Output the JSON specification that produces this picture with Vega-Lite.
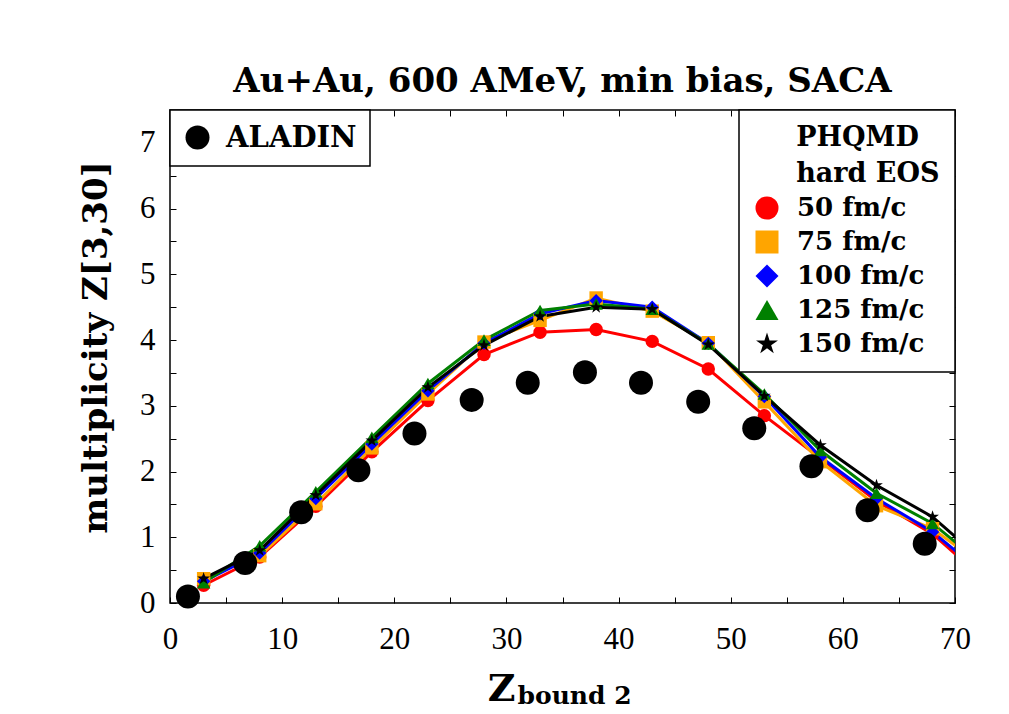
{
  "$schema": "https://vega.github.io/schema/vega-lite/v6.json",
  "width": 785,
  "height": 493,
  "autosize": {"type": "none"},
  "padding": {"left": 170, "top": 110, "right": 54, "bottom": 111},
  "background": "white",
  "title": {"text": "Au+Au, 600 AMeV, min bias, SACA", "font": "DejaVu Serif", "fontSize": 34, "fontWeight": "bold", "color": "black", "offset": 10, "anchor": "middle"},
  "config": {
    "view": {"stroke": "black", "strokeWidth": 1.5},
    "axis": {"domain": false, "grid": false, "tickColor": "black", "tickSize": -6, "tickWidth": 1, "labelFont": "Liberation Serif", "labelFontSize": 31, "labelColor": "black", "titleColor": "black", "labelFlush": false, "labelOverlap": false},
    "legend": {"strokeColor": "black", "strokeWidth": 1.5, "fillColor": "white", "offset": 0, "labelFont": "DejaVu Serif", "labelFontWeight": "bold", "labelColor": "black", "titleFont": "DejaVu Serif", "titleFontWeight": "bold", "titleColor": "black", "titleLimit": 400, "labelLimit": 400}
  },
  "datasets": {
    "phqmd": [
      {"series": "50 fm/c", "z": 3, "m": 0.27}, {"series": "50 fm/c", "z": 8, "m": 0.70}, {"series": "50 fm/c", "z": 13, "m": 1.47}, {"series": "50 fm/c", "z": 18, "m": 2.30}, {"series": "50 fm/c", "z": 23, "m": 3.08}, {"series": "50 fm/c", "z": 28, "m": 3.78}, {"series": "50 fm/c", "z": 33, "m": 4.12}, {"series": "50 fm/c", "z": 38, "m": 4.16}, {"series": "50 fm/c", "z": 43, "m": 3.98}, {"series": "50 fm/c", "z": 48, "m": 3.56}, {"series": "50 fm/c", "z": 53, "m": 2.85}, {"series": "50 fm/c", "z": 58, "m": 2.20}, {"series": "50 fm/c", "z": 63, "m": 1.55}, {"series": "50 fm/c", "z": 68, "m": 1.05}, {"series": "50 fm/c", "z": 73, "m": 0.30},
      {"series": "75 fm/c", "z": 3, "m": 0.37}, {"series": "75 fm/c", "z": 8, "m": 0.72}, {"series": "75 fm/c", "z": 13, "m": 1.51}, {"series": "75 fm/c", "z": 18, "m": 2.36}, {"series": "75 fm/c", "z": 23, "m": 3.18}, {"series": "75 fm/c", "z": 28, "m": 3.97}, {"series": "75 fm/c", "z": 33, "m": 4.30}, {"series": "75 fm/c", "z": 38, "m": 4.64}, {"series": "75 fm/c", "z": 43, "m": 4.44}, {"series": "75 fm/c", "z": 48, "m": 3.96}, {"series": "75 fm/c", "z": 53, "m": 3.06}, {"series": "75 fm/c", "z": 58, "m": 2.15}, {"series": "75 fm/c", "z": 63, "m": 1.48}, {"series": "75 fm/c", "z": 68, "m": 1.13}, {"series": "75 fm/c", "z": 73, "m": 0.51},
      {"series": "100 fm/c", "z": 3, "m": 0.33}, {"series": "100 fm/c", "z": 8, "m": 0.76}, {"series": "100 fm/c", "z": 13, "m": 1.59}, {"series": "100 fm/c", "z": 18, "m": 2.42}, {"series": "100 fm/c", "z": 23, "m": 3.23}, {"series": "100 fm/c", "z": 28, "m": 3.95}, {"series": "100 fm/c", "z": 33, "m": 4.40}, {"series": "100 fm/c", "z": 38, "m": 4.60}, {"series": "100 fm/c", "z": 43, "m": 4.50}, {"series": "100 fm/c", "z": 48, "m": 3.95}, {"series": "100 fm/c", "z": 53, "m": 3.14}, {"series": "100 fm/c", "z": 58, "m": 2.22}, {"series": "100 fm/c", "z": 63, "m": 1.59}, {"series": "100 fm/c", "z": 68, "m": 1.08}, {"series": "100 fm/c", "z": 73, "m": 0.38},
      {"series": "125 fm/c", "z": 3, "m": 0.31}, {"series": "125 fm/c", "z": 8, "m": 0.87}, {"series": "125 fm/c", "z": 13, "m": 1.69}, {"series": "125 fm/c", "z": 18, "m": 2.52}, {"series": "125 fm/c", "z": 23, "m": 3.34}, {"series": "125 fm/c", "z": 28, "m": 4.00}, {"series": "125 fm/c", "z": 33, "m": 4.45}, {"series": "125 fm/c", "z": 38, "m": 4.55}, {"series": "125 fm/c", "z": 43, "m": 4.47}, {"series": "125 fm/c", "z": 48, "m": 3.94}, {"series": "125 fm/c", "z": 53, "m": 3.18}, {"series": "125 fm/c", "z": 58, "m": 2.32}, {"series": "125 fm/c", "z": 63, "m": 1.67}, {"series": "125 fm/c", "z": 68, "m": 1.21}, {"series": "125 fm/c", "z": 73, "m": 0.51},
      {"series": "150 fm/c", "z": 3, "m": 0.37}, {"series": "150 fm/c", "z": 8, "m": 0.80}, {"series": "150 fm/c", "z": 13, "m": 1.64}, {"series": "150 fm/c", "z": 18, "m": 2.47}, {"series": "150 fm/c", "z": 23, "m": 3.28}, {"series": "150 fm/c", "z": 28, "m": 3.92}, {"series": "150 fm/c", "z": 33, "m": 4.36}, {"series": "150 fm/c", "z": 38, "m": 4.50}, {"series": "150 fm/c", "z": 43, "m": 4.47}, {"series": "150 fm/c", "z": 48, "m": 3.93}, {"series": "150 fm/c", "z": 53, "m": 3.15}, {"series": "150 fm/c", "z": 58, "m": 2.40}, {"series": "150 fm/c", "z": 63, "m": 1.79}, {"series": "150 fm/c", "z": 68, "m": 1.31}, {"series": "150 fm/c", "z": 73, "m": 0.56}
    ],
    "aladin": [
      {"src": "ALADIN", "z": 1.6, "m": 0.10}, {"src": "ALADIN", "z": 6.7, "m": 0.61}, {"src": "ALADIN", "z": 11.7, "m": 1.38}, {"src": "ALADIN", "z": 16.8, "m": 2.02}, {"src": "ALADIN", "z": 21.8, "m": 2.58}, {"src": "ALADIN", "z": 26.9, "m": 3.09}, {"src": "ALADIN", "z": 31.9, "m": 3.35}, {"src": "ALADIN", "z": 37.0, "m": 3.51}, {"src": "ALADIN", "z": 42.0, "m": 3.35}, {"src": "ALADIN", "z": 47.1, "m": 3.06}, {"src": "ALADIN", "z": 52.1, "m": 2.66}, {"src": "ALADIN", "z": 57.2, "m": 2.08}, {"src": "ALADIN", "z": 62.2, "m": 1.41}, {"src": "ALADIN", "z": 67.3, "m": 0.90}
    ]
  },
  "layer": [
    {
      "data": {"name": "phqmd"},
      "mark": {"type": "line", "strokeWidth": 3, "clip": true},
      "encoding": {
        "x": {"field": "z", "type": "quantitative", "scale": {"domain": [0, 70], "nice": false, "zero": false},
          "axis": {"orient": "bottom", "values": [0, 5, 10, 15, 20, 25, 30, 35, 40, 45, 50, 55, 60, 65, 70], "labelExpr": "datum.value % 10 === 0 ? format(datum.value, 'd') : ''", "labelPadding": 27,
            "title": "Z", "titleFont": "DejaVu Serif", "titleFontWeight": "bold", "titleFontSize": 38, "titleX": 331, "titleY": 97, "titleAlign": "center", "titleBaseline": "alphabetic"}},
        "y": {"field": "m", "type": "quantitative", "scale": {"domain": [0, 7.5], "nice": false},
          "axis": {"orient": "left", "values": [0, 0.5, 1, 1.5, 2, 2.5, 3, 3.5, 4, 4.5, 5, 5.5, 6, 6.5, 7], "labelExpr": "datum.value % 1 === 0 ? format(datum.value, 'd') : ''", "labelPadding": 21,
            "title": "multiplicity Z[3,30]", "titleFont": "DejaVu Serif", "titleFontWeight": "bold", "titleFontSize": 34, "titleAngle": -90, "titleX": -64, "titleY": 237, "titleAlign": "center", "titleBaseline": "alphabetic"}},
        "color": {"field": "series", "type": "nominal", "scale": {"domain": ["50 fm/c", "75 fm/c", "100 fm/c", "125 fm/c", "150 fm/c"], "range": ["#ff0000", "#ffa500", "#0000ff", "#008000", "#000000"]}, "legend": null}
      }
    },
    {
      "data": {"name": "phqmd"},
      "mark": {"type": "point", "filled": true, "opacity": 1, "size": 180, "clip": true},
      "encoding": {
        "x": {"field": "z", "type": "quantitative", "axis": {"orient": "top", "values": [0, 5, 10, 15, 20, 25, 30, 35, 40, 45, 50, 55, 60, 65, 70], "labels": false, "title": null}},
        "y": {"field": "m", "type": "quantitative", "axis": {"orient": "right", "values": [0, 0.5, 1, 1.5, 2, 2.5, 3, 3.5, 4, 4.5, 5, 5.5, 6, 6.5, 7], "labels": false, "title": null}},
        "color": {"field": "series", "type": "nominal", "scale": {"domain": ["50 fm/c", "75 fm/c", "100 fm/c", "125 fm/c", "150 fm/c"], "range": ["#ff0000", "#ffa500", "#0000ff", "#008000", "#000000"]},
          "legend": {"orient": "top-right", "title": ["\u2800\u2800PHQMD", "\u2800\u2800hard EOS"], "titleFontSize": 27, "titleLineHeight": 36, "titlePadding": 7, "labelFontSize": 26, "symbolSize": 529, "rowPadding": 8, "labelOffset": 17, "padding": 15, "symbolStrokeWidth": 0}},
        "shape": {"field": "series", "type": "nominal", "scale": {"domain": ["50 fm/c", "75 fm/c", "100 fm/c", "125 fm/c", "150 fm/c"], "range": ["circle", "square", "diamond", "triangle-up", "M0,-1L0.223,-0.307L0.951,-0.309L0.361,0.117L0.588,0.809L0,0.38L-0.588,0.809L-0.361,0.117L-0.951,-0.309L-0.223,-0.307Z"]},
          "legend": {"orient": "top-right", "title": ["\u2800\u2800PHQMD", "\u2800\u2800hard EOS"], "titleFontSize": 27, "titleLineHeight": 36, "titlePadding": 7, "labelFontSize": 26, "symbolSize": 529, "rowPadding": 8, "labelOffset": 17, "padding": 15, "symbolStrokeWidth": 0}}
      }
    },
    {
      "data": {"name": "aladin"},
      "mark": {"type": "point", "filled": true, "opacity": 1, "shape": "circle", "size": 576},
      "encoding": {
        "x": {"field": "z", "type": "quantitative", "axis": {"orient": "bottom", "labels": false, "ticks": false, "domain": false, "title": "bound 2", "titleFont": "DejaVu Serif", "titleFontWeight": "bold", "titleFontSize": 25, "titleX": 347, "titleY": 100, "titleAlign": "left", "titleBaseline": "alphabetic"}},
        "y": {"field": "m", "type": "quantitative", "axis": null},
        "color": {"field": "src", "type": "nominal", "scale": {"domain": ["ALADIN"], "range": ["#000000"]},
          "legend": {"orient": "top-left", "title": null, "labelFontSize": 29, "symbolSize": 576, "labelOffset": 14, "padding": 13, "symbolStrokeWidth": 0}}
      }
    }
  ],
  "resolve": {"scale": {"color": "independent", "shape": "independent"}, "axis": {"x": "independent", "y": "independent"}}
}
